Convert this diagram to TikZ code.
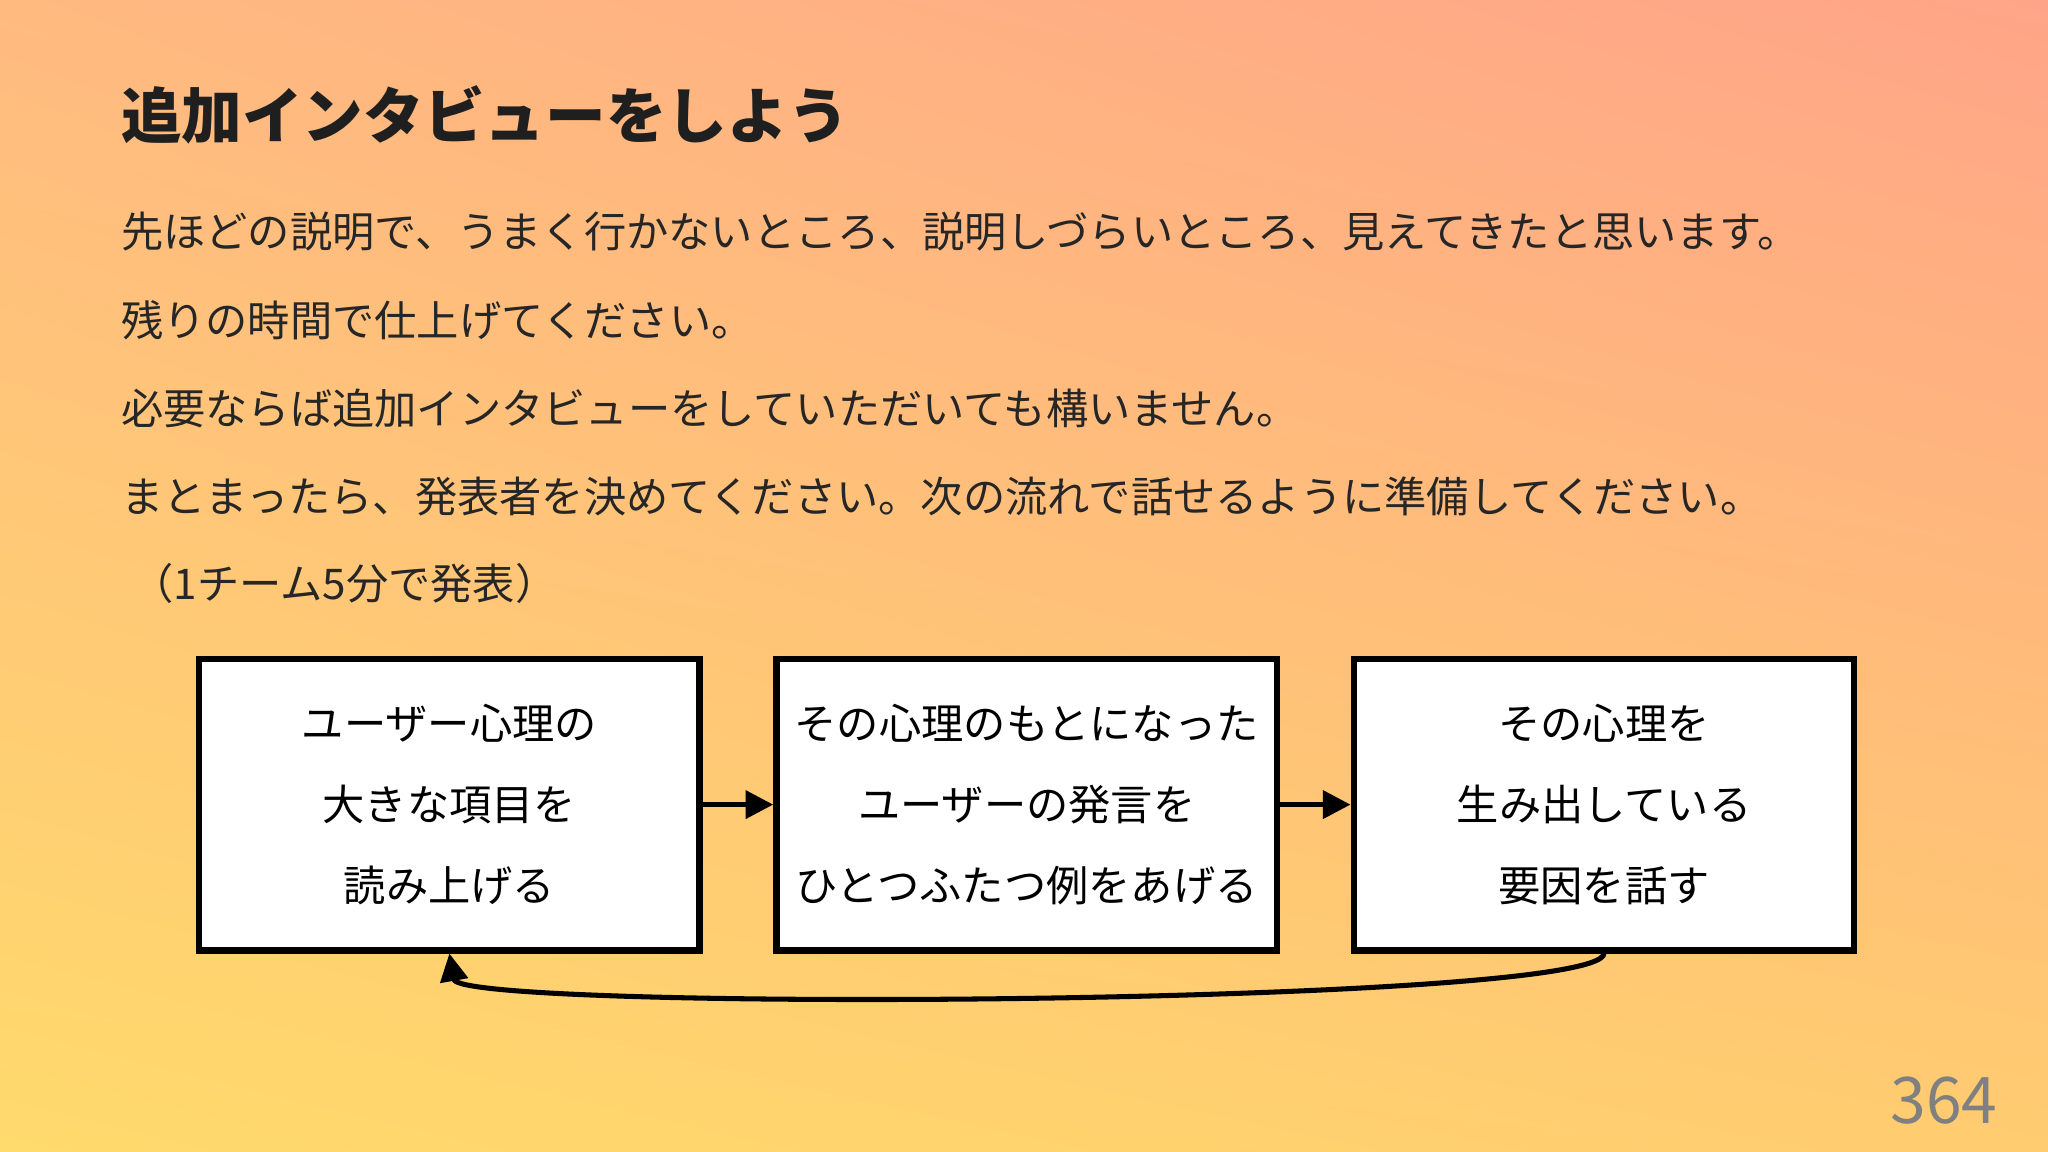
\documentclass[tikz,border=0pt]{standalone}
\usepackage{fontspec}
\setmainfont{Noto Sans CJK JP}
\usetikzlibrary{arrows.meta,shadings}
\definecolor{cUL}{RGB}{255,186,128}
\definecolor{cUR}{RGB}{255,164,136}
\definecolor{cLL}{RGB}{255,218,108}
\definecolor{cLR}{RGB}{255,204,112}
\begin{document}
\begin{tikzpicture}[x=0.01cm,y=-0.01cm,
  box/.style={draw=black,line width=1.4pt,fill=white,minimum width=3.83cm,minimum height=2.23cm,anchor=north west,align=center,font=\fontsize{9.2}{17.6}\selectfont},
  body/.style={anchor=west,inner sep=0,font=\fontsize{9.2}{11}\selectfont,text=black!85},
  conn/.style={line width=1.1pt,-{Triangle[length=6pt,width=6pt]}}]
\useasboundingbox (0,0) rectangle (1568,882);
\shade[upper left=cUL,upper right=cUR,lower left=cLL,lower right=cLR] (0,0) rectangle (1568,882);
\node[body,font=\fontsize{13.2}{15}\bfseries\selectfont,text=black!88] (title) at (92,88) {追加インタビューをしよう};
\node[body] (l1) at (92,177) {先ほどの説明で、うまく行かないところ、説明しづらいところ、見えてきたと思います。};
\node[body] (l2) at (92,245) {残りの時間で仕上げてください。};
\node[body] (l3) at (92,313) {必要ならば追加インタビューをしていただいても構いません。};
\node[body] (l4) at (92,380) {まとまったら、発表者を決めてください。次の流れで話せるように準備してください。};
\node[body] (l5) at (100,447) {（1チーム5分で発表）};
\node[box] (b1) at (150,502) {ユーザー心理の\\大きな項目を\\読み上げる};
\node[box] (b2) at (592,502) {その心理のもとになった\\ユーザーの発言を\\ひとつふたつ例をあげる};
\node[box] (b3) at (1034,502) {その心理を\\生み出している\\要因を話す};
\draw[conn] (b1.east) -- (b2.west);
\draw[conn] (b2.east) -- (b3.west);
\draw[conn] (b3.south) .. controls (1225,770) and (352,775) .. (b1.south);
\node[anchor=east,inner sep=0,font=\fontsize{14}{16}\selectfont,text=black!50] (pg) at (1530,843) {364};
\end{tikzpicture}
\end{document}
